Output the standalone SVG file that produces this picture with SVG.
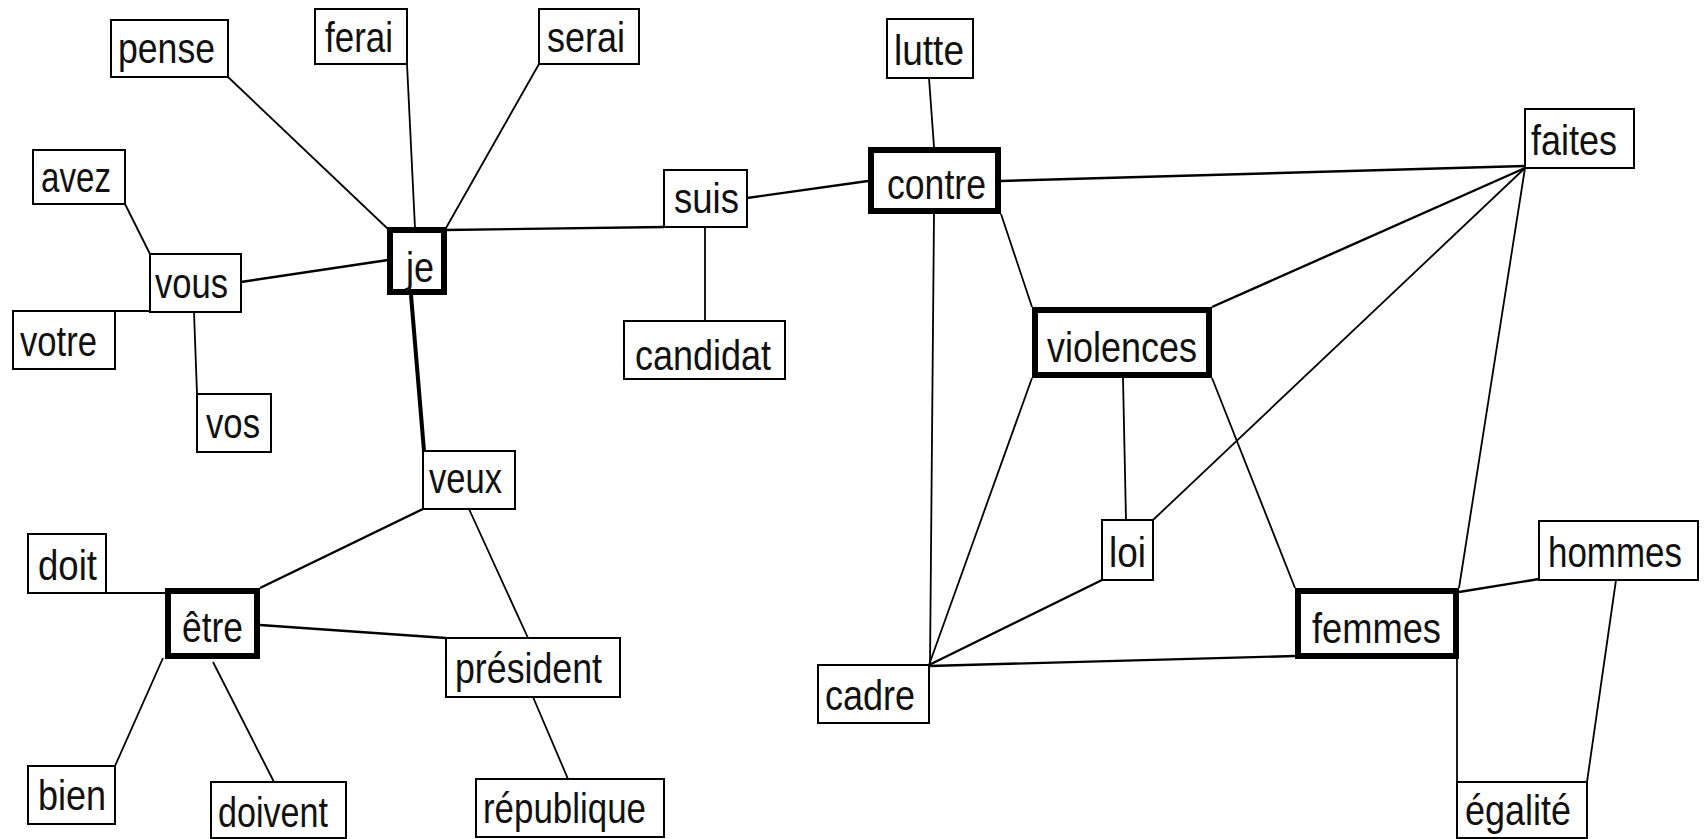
<svg xmlns="http://www.w3.org/2000/svg" width="1704" height="839" viewBox="0 0 1704 839">
<style>
.n rect{fill:#fff;stroke:#000;stroke-width:2}
.t rect{fill:#fff;stroke:#000;stroke-width:6}
text{font-family:"Liberation Sans",Arial,sans-serif;font-size:43px;fill:#111}
#edges line{stroke:#000;stroke-width:1.8}
#edges line.b{stroke-width:2.4}
</style>
<rect width="1704" height="839" fill="#fff"/>
<g id="edges">
<line x1="228" y1="77" x2="388" y2="229"/>
<line x1="407" y1="64" x2="415" y2="228"/>
<line x1="539" y1="64" x2="446" y2="228"/>
<line x1="125" y1="204" x2="150" y2="254"/>
<line class="b" x1="241" y1="282" x2="388" y2="260"/>
<line x1="115" y1="311" x2="150" y2="311"/>
<line x1="194" y1="312" x2="197" y2="394"/>
<line class="b" x1="446" y1="230" x2="664" y2="227"/>
<line x1="705" y1="227" x2="705" y2="321"/>
<line class="b" x1="747" y1="198" x2="868" y2="181"/>
<line x1="929" y1="78" x2="934" y2="147"/>
<line class="b" x1="1001" y1="181" x2="1525" y2="166"/>
<line x1="934" y1="214" x2="930" y2="665"/>
<line x1="1001" y1="214" x2="1032" y2="307"/>
<line class="b" x1="1212" y1="307" x2="1525" y2="168"/>
<line x1="1153" y1="520" x2="1525" y2="168"/>
<line x1="1459" y1="588" x2="1525" y2="168"/>
<line x1="1032" y1="378" x2="929" y2="665"/>
<line x1="1123" y1="378" x2="1126" y2="520"/>
<line x1="1212" y1="378" x2="1295" y2="588"/>
<line class="b" x1="1102" y1="580" x2="929" y2="665"/>
<line class="b" x1="929" y1="666" x2="1295" y2="656"/>
<line class="b" x1="1459" y1="592" x2="1539" y2="579"/>
<line x1="1457" y1="659" x2="1457" y2="782"/>
<line x1="1616" y1="580" x2="1587" y2="782"/>
<line x1="411" y1="295" x2="424" y2="451" style="stroke-width:4"/>
<line class="b" x1="423" y1="509" x2="260" y2="588"/>
<line x1="469" y1="509" x2="528" y2="638"/>
<line x1="106" y1="593" x2="165" y2="593"/>
<line class="b" x1="260" y1="625" x2="446" y2="638"/>
<line x1="163" y1="658" x2="115" y2="766"/>
<line x1="213" y1="662" x2="274" y2="782"/>
<line x1="533" y1="697" x2="568" y2="779"/>
</g>
<g id="pense" class="n"><rect x="111" y="20" width="117" height="57"/><text x="118" y="63" textLength="97" lengthAdjust="spacingAndGlyphs">pense</text></g>
<g id="ferai" class="n"><rect x="315" y="9" width="92" height="55"/><text x="325" y="52" textLength="68" lengthAdjust="spacingAndGlyphs">ferai</text></g>
<g id="serai" class="n"><rect x="539" y="9" width="100" height="55"/><text x="547" y="52" textLength="78" lengthAdjust="spacingAndGlyphs">serai</text></g>
<g id="avez" class="n"><rect x="33" y="150" width="92" height="54"/><text x="41" y="192" textLength="70" lengthAdjust="spacingAndGlyphs">avez</text></g>
<g id="vous" class="n"><rect x="150" y="254" width="91" height="58"/><text x="155" y="298" textLength="73" lengthAdjust="spacingAndGlyphs">vous</text></g>
<g id="votre" class="n"><rect x="13" y="311" width="102" height="58"/><text x="20" y="356" textLength="77" lengthAdjust="spacingAndGlyphs">votre</text></g>
<g id="vos" class="n"><rect x="197" y="394" width="74" height="58"/><text x="206" y="438" textLength="54" lengthAdjust="spacingAndGlyphs">vos</text></g>
<g id="je" class="t"><rect x="390" y="230" width="54" height="62"/><text x="406" y="282" textLength="28" lengthAdjust="spacingAndGlyphs">je</text></g>
<g id="suis" class="n"><rect x="664" y="170" width="83" height="57"/><text x="674" y="213" textLength="65" lengthAdjust="spacingAndGlyphs">suis</text></g>
<g id="candidat" class="n"><rect x="624" y="321" width="161" height="58"/><text x="635" y="370" textLength="136" lengthAdjust="spacingAndGlyphs">candidat</text></g>
<g id="lutte" class="n"><rect x="887" y="19" width="86" height="59"/><text x="894" y="65" textLength="70" lengthAdjust="spacingAndGlyphs">lutte</text></g>
<g id="contre" class="t"><rect x="871" y="150" width="127" height="61"/><text x="887" y="199" textLength="99" lengthAdjust="spacingAndGlyphs">contre</text></g>
<g id="faites" class="n"><rect x="1525" y="109" width="109" height="59"/><text x="1531" y="155" textLength="86" lengthAdjust="spacingAndGlyphs">faites</text></g>
<g id="violences" class="t"><rect x="1035" y="310" width="174" height="65"/><text x="1047" y="362" textLength="150" lengthAdjust="spacingAndGlyphs">violences</text></g>
<g id="loi" class="n"><rect x="1102" y="520" width="51" height="60"/><text x="1109" y="567" textLength="37" lengthAdjust="spacingAndGlyphs">loi</text></g>
<g id="hommes" class="n"><rect x="1539" y="521" width="159" height="59"/><text x="1548" y="567" textLength="134" lengthAdjust="spacingAndGlyphs">hommes</text></g>
<g id="femmes" class="t"><rect x="1298" y="591" width="158" height="65"/><text x="1312" y="643" textLength="129" lengthAdjust="spacingAndGlyphs">femmes</text></g>
<g id="cadre" class="n"><rect x="818" y="665" width="111" height="58"/><text x="825" y="710" textLength="90" lengthAdjust="spacingAndGlyphs">cadre</text></g>
<g id="egalite" class="n"><rect x="1457" y="782" width="130" height="56"/><text x="1465" y="825" textLength="106" lengthAdjust="spacingAndGlyphs">égalité</text></g>
<g id="veux" class="n"><rect x="423" y="451" width="92" height="58"/><text x="429" y="493" textLength="73" lengthAdjust="spacingAndGlyphs">veux</text></g>
<g id="doit" class="n"><rect x="28" y="534" width="78" height="59"/><text x="38" y="580" textLength="59" lengthAdjust="spacingAndGlyphs">doit</text></g>
<g id="etre" class="t"><rect x="168" y="591" width="89" height="65"/><text x="182" y="642" textLength="61" lengthAdjust="spacingAndGlyphs">être</text></g>
<g id="president" class="n"><rect x="446" y="638" width="174" height="59"/><text x="455" y="683" textLength="147" lengthAdjust="spacingAndGlyphs">président</text></g>
<g id="bien" class="n"><rect x="28" y="766" width="87" height="58"/><text x="38" y="810" textLength="68" lengthAdjust="spacingAndGlyphs">bien</text></g>
<g id="doivent" class="n"><rect x="211" y="782" width="135" height="56"/><text x="218" y="827" textLength="110" lengthAdjust="spacingAndGlyphs">doivent</text></g>
<g id="republique" class="n"><rect x="476" y="779" width="188" height="58"/><text x="483" y="823" textLength="163" lengthAdjust="spacingAndGlyphs">république</text></g>
</svg>
